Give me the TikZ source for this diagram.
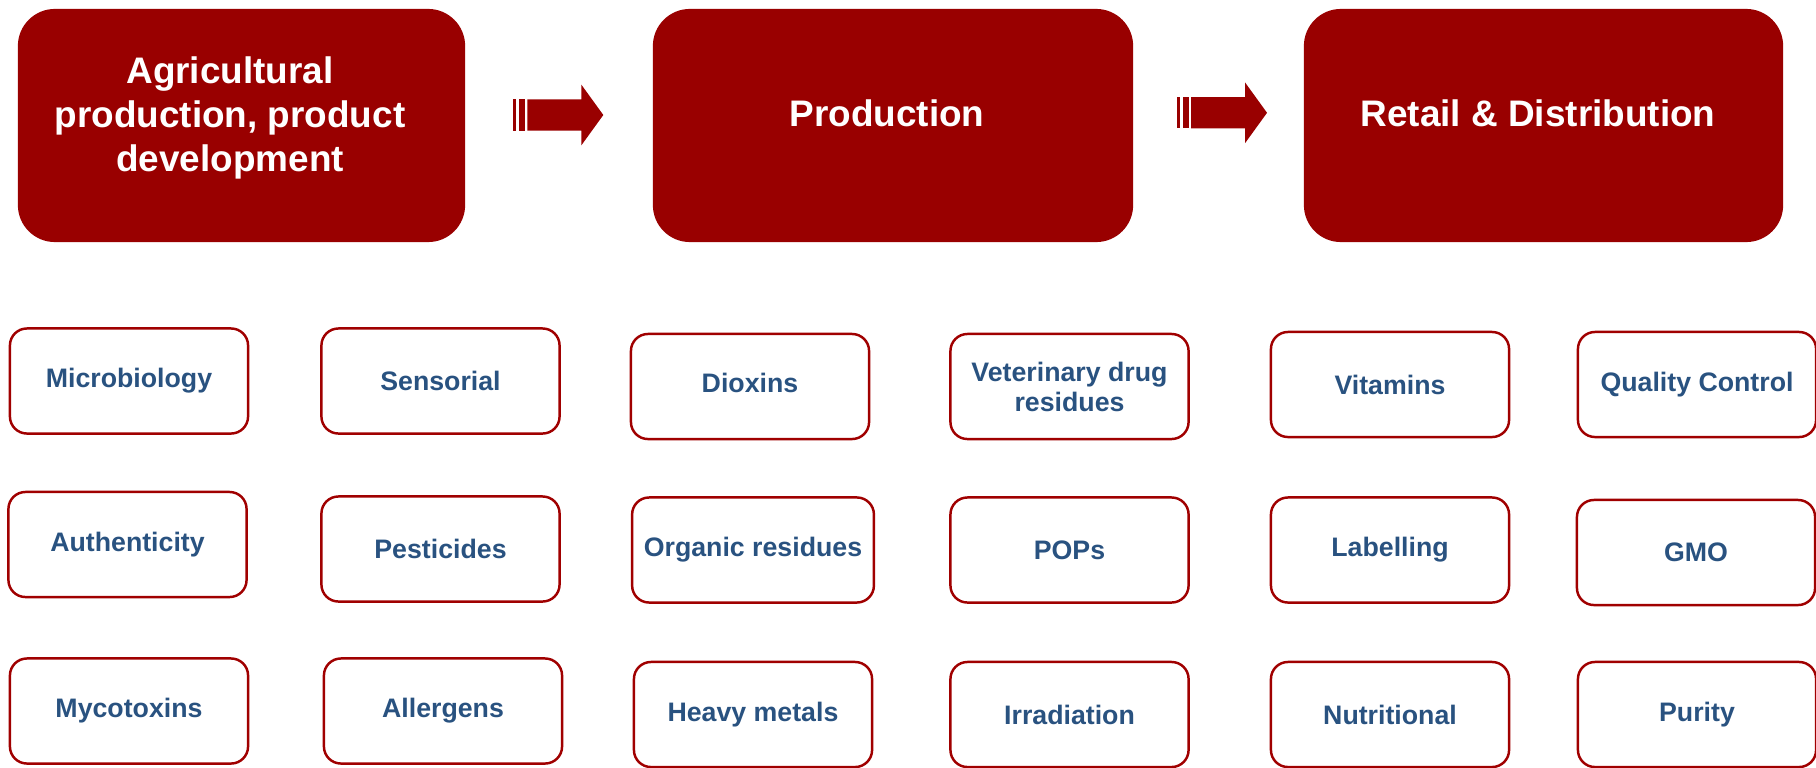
\documentclass[tikz,border=0pt]{standalone}
\usepackage{fontspec}
\setmainfont{Liberation Sans}
\definecolor{stagered}{HTML}{990000}
\definecolor{boxred}{HTML}{A00000}
\definecolor{itemblue}{RGB}{41,82,128}

\tikzset{
  stage/.style={fill=stagered, rounded corners=0.37cm, minimum height=2.33cm},
  stagetext/.style={text=white, font=\bfseries\fontsize{10.5}{12.5}\selectfont, align=center},
  item/.style={draw=boxred, line width=0.7pt, rounded corners=0.17cm,
    minimum width=2.38cm, minimum height=1.05cm, text=itemblue,
    font=\bfseries\fontsize{7.6}{8.5}\selectfont, align=center},
}

% block arrow between two stages
\newcommand{\stagearrow}[1]{%
  \begin{scope}[shift={#1}]
    \fill[stagered] (-14.5,-15.6) rectangle (-11.2,15.6);
    \fill[stagered] (-8.5,-15.6) rectangle (-2.2,15.6);
    \fill[stagered] (0,-15.6) -- (54,-15.6) -- (54,-30.4) -- (76,0) -- (54,30.4) -- (54,15.6) -- (0,15.6) -- cycle;
  \end{scope}}

\begin{document}
\begin{tikzpicture}[x=0.01cm, y=-0.01cm]
    \useasboundingbox (0,0) rectangle (1816,767);

    % stages
    \node[stage, minimum width=4.47cm] (agri) at (241.5,125.5) {};
    \node[stage, minimum width=4.80cm] (prod) at (893,125.5) {};
    \node[stage, minimum width=4.79cm] (retail) at (1543.5,125.5) {};
    \node[stagetext] (agritext) at (230,117.5) {Agricultural\\production, product\\development};
    \node[stagetext] (prodtext) at (887,113) {Production};
    \node[stagetext] (retailtext) at (1538,113) {Retail \& Distribution};

    \coordinate (arr1) at (527.3,115);
    \coordinate (arr2) at (1191,112.8);
    \stagearrow{(arr1)}
    \stagearrow{(arr2)}

    % first row
    \node[item] (micro) at (129,381) {Microbiology};
    \node[item] (senso) at (440.5,381) {Sensorial};
    \node[item, text depth=0.08cm] (diox) at (750,386.5) {Dioxins};
    \node[item] (vet) at (1069.5,386.5) {Veterinary drug\\residues};
    \node[item] (vita) at (1390,384.5) {Vitamins};
    \node[item] (qc) at (1697,384.5) {Quality Control};

    % second row
    \node[item] (auth) at (127.5,544.5) {Authenticity};
    \node[item] (pest) at (440.5,549) {Pesticides};
    \node[item] (orga) at (753,550) {Organic residues};
    \node[item] (pops) at (1069.5,550) {POPs};
    \node[item] (label) at (1390,550) {Labelling};
    \node[item] (gmo) at (1696,552.5) {GMO};

    % third row
    \node[item] (myco) at (129,711) {Mycotoxins};
    \node[item] (allerg) at (443,711) {Allergens};
    \node[item] (heavy) at (753,714.5) {Heavy metals};
    \node[item] (irra) at (1069.5,714.5) {Irradiation};
    \node[item] (nutri) at (1390,714.5) {Nutritional};
    \node[item] (purity) at (1697,714.5) {Purity};
\end{tikzpicture}
\end{document}
